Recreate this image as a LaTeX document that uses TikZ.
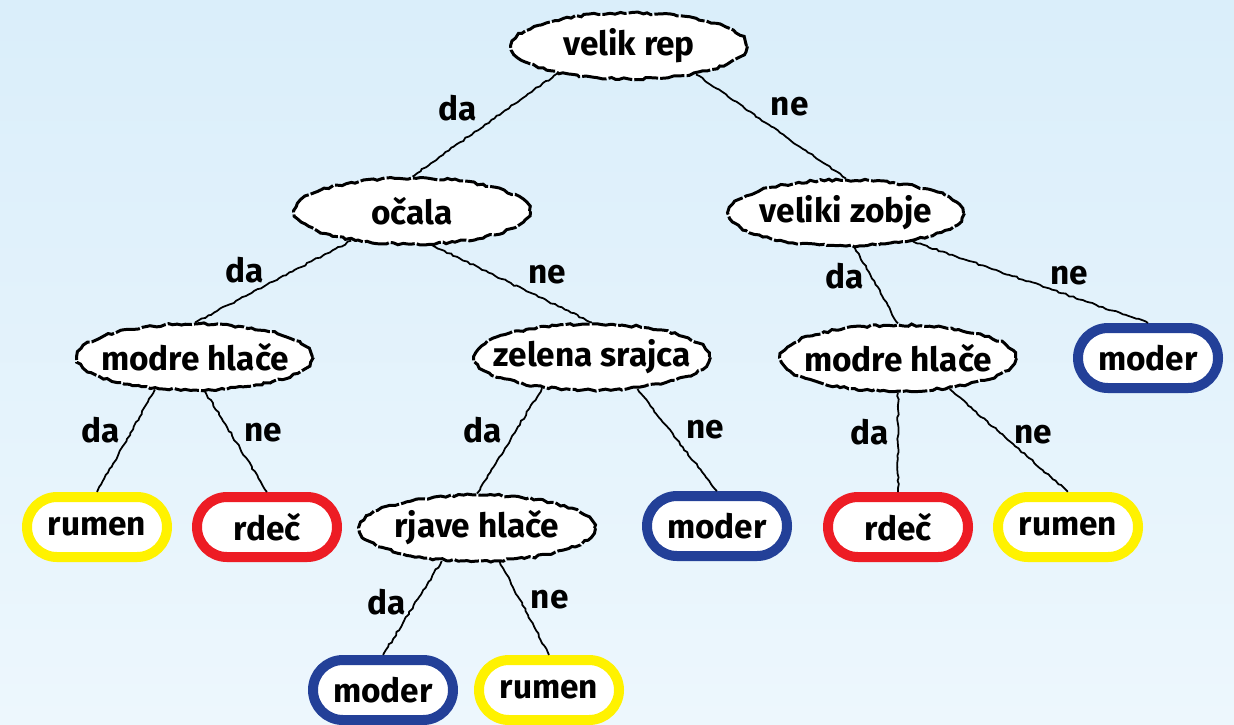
\documentclass[tikz,border=0pt]{standalone}
\usepackage{fontspec}
\setmainfont{Fira Sans}
\usetikzlibrary{shapes,positioning,decorations.pathmorphing}
\definecolor{yellow}{RGB}{255,242,0}
\definecolor{red}{RGB}{237,28,36}
\definecolor{blue}{RGB}{35,64,152}
\definecolor{bgtop}{RGB}{218,238,250}
\definecolor{bgbottom}{RGB}{237,247,253}

\begin{document}
\begin{tikzpicture}[node distance=3.3cm, every node/.style={font=\bfseries\fontsize{19}{22}\selectfont},
  question/.style={draw, ellipse, fill=white, line width=1.7pt, dash pattern=on 14pt off 1.2pt, minimum width=4.7cm, minimum height=1.32cm, inner xsep=-0.4cm, inner ysep=0pt, decorate, decoration={random steps, segment length=2.5pt, amplitude=0.7pt}},
  answer/.style={draw=#1, fill=white, line width=0.2cm, rounded corners=0.6cm, minimum width=2.8cm, minimum height=1.2cm, inner sep=0pt},
  link/.style={line width=1pt, decorate, decoration={random steps, segment length=2pt, amplitude=0.5pt}},
  lbl/.style={inner sep=0pt}]
\shade[top color=bgtop, bottom color=bgbottom] (0,0) rectangle (24.68,-14.48);
\useasboundingbox (0,0) rectangle (24.68,-14.48);
% questions and answers
\node[question] (vr) at (12.58,-0.92) {velik rep};
\node[question] (oc) [below of=vr, xshift=-4.34cm] {očala};
\node[question] (vz) [below of=vr, xshift=4.34cm, yshift=-0.04cm] {veliki zobje};
\node[question] (mhl) [below of=oc, xshift=-4.34cm, yshift=0.38cm] {modre hlače};
\node[question] (zs) [below of=oc, xshift=3.6cm, yshift=0.38cm] {zelena srajca};
\node[question] (mhr) [below of=vz, xshift=1.04cm, yshift=0.4cm] {modre hlače};
\node[answer=blue] (mo1) [below of=vz, xshift=6.04cm, yshift=0.4cm] {moder};
\node[answer=yellow] (ru1) [below of=mhl, xshift=-1.96cm, yshift=-0.1cm] {rumen};
\node[answer=red] (rd1) [below of=mhl, xshift=1.44cm, yshift=-0.1cm] {rdeč};
\node[question] (rh) [below of=zs, xshift=-2.3cm, yshift=-0.12cm] {rjave hlače};
\node[answer=blue] (mo2) [below of=zs, xshift=2.5cm, yshift=-0.08cm] {moder};
\node[answer=red] (rd2) [below of=mhr, yshift=-0.08cm] {rdeč};
\node[answer=yellow] (ru2) [below of=mhr, xshift=3.4cm, yshift=-0.08cm] {rumen};
\node[answer=blue] (mo3) [below of=rh, xshift=-1.88cm, yshift=0.06cm] {moder};
\node[answer=yellow] (ru3) [below of=rh, xshift=1.44cm, yshift=0.06cm] {rumen};
% branches
\draw[link] (vr.201) -- (oc.north) node[lbl, pos=.34, left=0.6cm] (l1) {da};
\draw[link] (vr.337) -- (vz.north) node[lbl, pos=.31, right=0.55cm] (l2) {ne};
\draw[link] (oc.206) -- (mhl.north) node[lbl, pos=.36, left=0.6cm] (l3) {da};
\draw[link] (oc.300) -- (zs.north) node[lbl, pos=.38, right=0.7cm] (l4) {ne};
\draw[link] (vz.284) -- (mhr.north) node[lbl, pos=.38, left=0.12cm] (l5) {da};
\draw[link] (vz.337) -- (mo1.north) node[lbl, pos=.42, right=0.75cm] (l6) {ne};
\draw[link] (mhl.219) -- (ru1.north) node[lbl, pos=.4, left=0.22cm] (l7) {da};
\draw[link] (mhl.286) -- (rd1.north) node[lbl, pos=.41, right=0.26cm] (l8) {ne};
\draw[link] (zs.212) -- (rh.north) node[lbl, pos=.4, left=0.26cm] (l9) {da};
\draw[link] (zs.325) -- (mo2.north) node[lbl, pos=.4, right=0.32cm] (l10) {ne};
\draw[link] (mhr.270) -- (rd2.north) node[lbl, pos=.4, left=0.16cm] (l11) {da};
\draw[link] (mhr.329) -- (ru2.north) node[lbl, pos=.44, right=0.24cm] (l12) {ne};
\draw[link] (rh.223) -- (mo3.north) node[lbl, pos=.44, left=0.18cm] (l13) {da};
\draw[link] (rh.304) -- (ru3.north) node[lbl, pos=.41, right=0.2cm] (l14) {ne};
\end{tikzpicture}
\end{document}
